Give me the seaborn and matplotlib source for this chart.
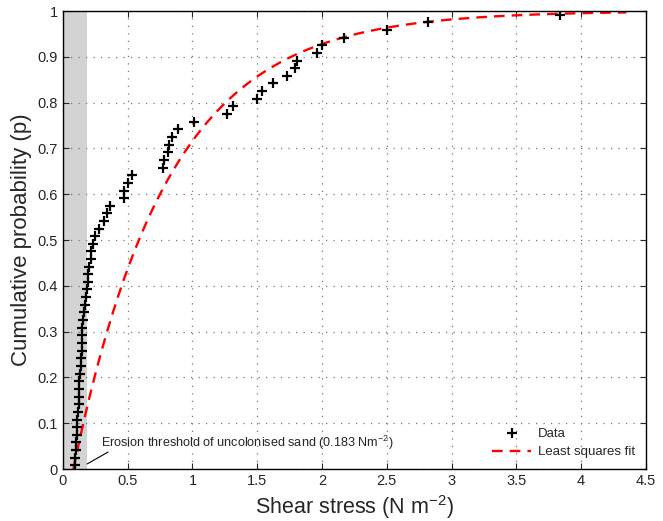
import numpy as np
import pandas as pd
import seaborn as sns
import matplotlib
matplotlib.use("Agg")
import matplotlib.pyplot as plt
from matplotlib.ticker import FormatStrFormatter

# shear stress values (N m^-2), sorted
shear = [0.09, 0.09, 0.10, 0.10, 0.105, 0.11, 0.11, 0.115, 0.12, 0.12,
         0.12, 0.125, 0.13, 0.14, 0.14, 0.145, 0.147, 0.148, 0.15, 0.155,
         0.165, 0.17, 0.18, 0.185, 0.19, 0.195, 0.20, 0.215, 0.22, 0.23,
         0.25, 0.28, 0.32, 0.34, 0.36, 0.47, 0.47, 0.50, 0.53, 0.77,
         0.78, 0.81, 0.82, 0.84, 0.89, 1.01, 1.27, 1.31, 1.50, 1.54,
         1.62, 1.73, 1.79, 1.81, 1.96, 2.00, 2.17, 2.50, 2.82, 3.84]
prob = [0.008, 0.025, 0.042, 0.058, 0.075, 0.092, 0.108, 0.125, 0.142, 0.158,
        0.175, 0.192, 0.208, 0.225, 0.242, 0.258, 0.275, 0.292, 0.308, 0.325,
        0.342, 0.358, 0.375, 0.392, 0.408, 0.425, 0.442, 0.458, 0.475, 0.492,
        0.508, 0.525, 0.542, 0.558, 0.575, 0.592, 0.608, 0.625, 0.642, 0.658,
        0.675, 0.692, 0.708, 0.725, 0.742, 0.758, 0.775, 0.792, 0.808, 0.825,
        0.842, 0.858, 0.875, 0.892, 0.908, 0.925, 0.942, 0.958, 0.975, 0.992]

# least squares fit: shifted exponential cdf
fit_x0 = 0.08
fit_scale = 0.73
fit_xmax = 4.35
threshold = 0.183

sns.set_style("ticks")
plt.rcParams['font.family'] = ['Liberation Sans', 'DejaVu Sans']
plt.rcParams['mathtext.fontset'] = 'custom'
plt.rcParams['mathtext.rm'] = 'Liberation Sans'

fig = plt.figure(figsize=(6.63, 5.21), dpi=100)
ax = fig.add_axes([0.095, 0.0998, 0.879, 0.879])

ax.axvspan(0, threshold, color='#d3d3d3', lw=0, zorder=0)

xf = np.linspace(fit_x0, fit_xmax, 300)
fit = pd.DataFrame({'x': xf, 'y': 1 - np.exp(-(xf - fit_x0) / fit_scale)})
data = pd.DataFrame({'shear': shear, 'p': prob})

sns.scatterplot(data=data, x='shear', y='p', marker='+', s=55, color='black',
                linewidth=1.6, ax=ax, label='Data', zorder=3)
sns.lineplot(data=fit, x='x', y='y', color='red', lw=1.7, ls=(0, (4.5, 3)),
             ax=ax, label='Least squares fit', zorder=2)

ax.set_xlim(0, 4.5)
ax.set_ylim(0, 1)
ax.set_xticks(np.arange(0, 4.51, 0.5))
ax.set_yticks(np.arange(0, 1.01, 0.1))
ax.xaxis.set_major_formatter(FormatStrFormatter('%g'))
ax.yaxis.set_major_formatter(FormatStrFormatter('%g'))
ax.grid(True, ls=(0, (1, 5)), color='#777777', lw=0.9)
ax.tick_params(direction='in', top=True, right=True, labelsize=10.5, length=4)
for s in ax.spines.values():
    s.set_linewidth(1.0)
    s.set_color('black')

ax.set_xlabel('Shear stress (N m$^{-2}$)', fontsize=15.5)
ax.set_ylabel('Cumulative probability (p)', fontsize=16)

# threshold label with a leader line
ax.plot([threshold + 0.003, 0.348], [0.011, 0.037], color='black', lw=0.8)
ax.text(0.29, 0.057, 'Erosion threshold of uncolonised sand (0.183 Nm$^{-2}$)',
        fontsize=9.1, va='center', ha='left')

ax.legend(loc='lower right', frameon=False, fontsize=9.5, handlelength=3,
          borderaxespad=0.4, handletextpad=0.5)

fig.savefig('out.png', dpi=100)
